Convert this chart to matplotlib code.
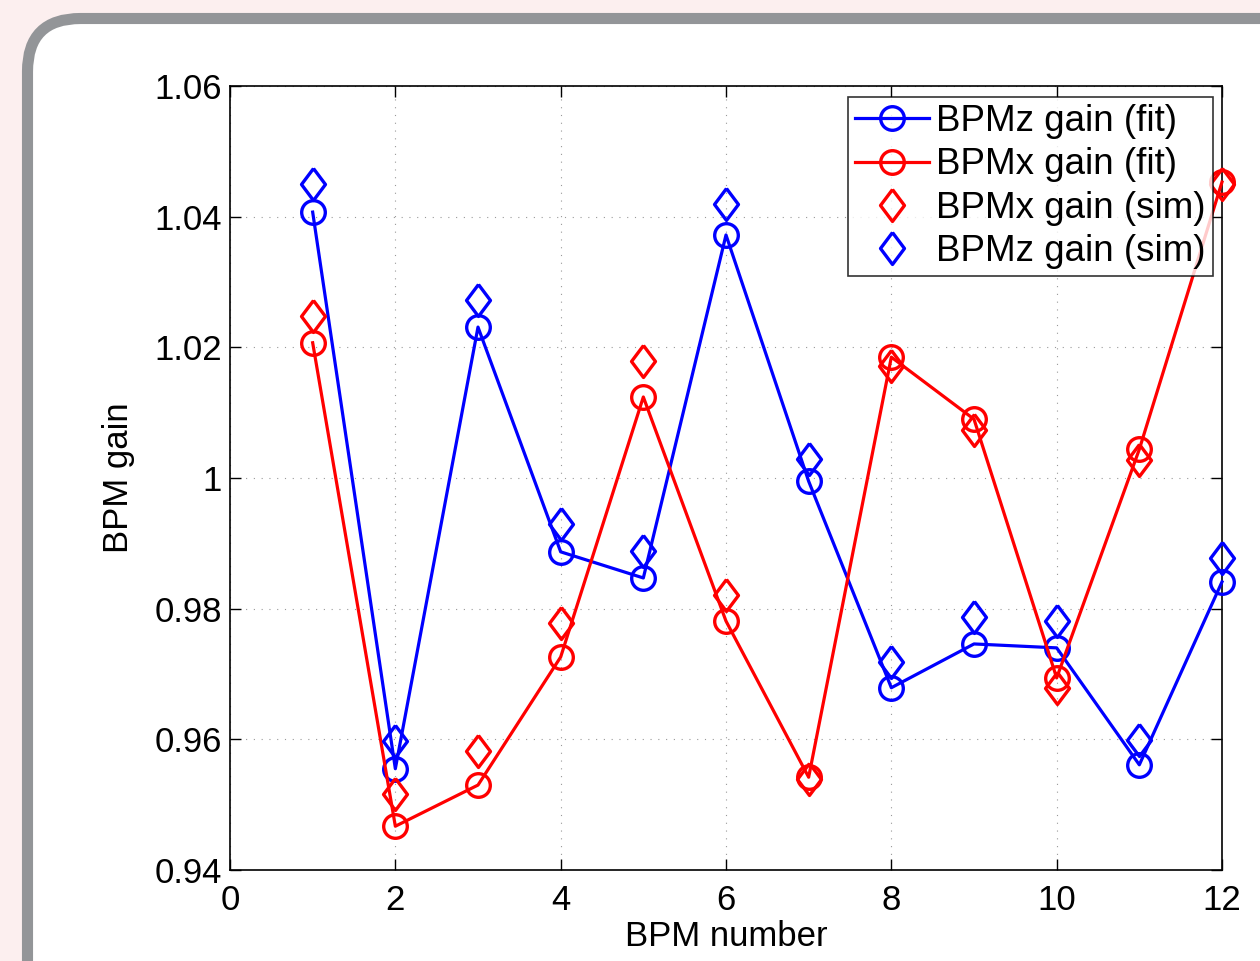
import matplotlib.pyplot as plt
from matplotlib.patches import FancyBboxPatch

plt.rcParams["font.family"] = ["Liberation Sans", "DejaVu Sans"]

bpm = [1, 2, 3, 4, 5, 6, 7, 8, 9, 10, 11, 12]

# gains
z_fit = [1.0407, 0.9555, 1.0231, 0.9887, 0.9847, 1.0372, 0.9995, 0.9679, 0.9746, 0.9740, 0.9561, 0.9841]
x_fit = [1.0207, 0.9467, 0.9530, 0.9726, 1.0124, 0.9781, 0.9542, 1.0185, 1.0090, 0.9694, 1.0044, 1.0453]
x_sim = [1.0248, 0.9516, 0.9582, 0.9778, 1.0179, 0.9821, 0.9539, 1.0171, 1.0073, 0.9679, 1.0028, 1.0450]
z_sim = [1.0450, 0.9597, 1.0272, 0.9930, 0.9888, 1.0419, 1.0029, 0.9718, 0.9787, 0.9781, 0.9599, 0.9878]

xticks = [0, 2, 4, 6, 8, 10, 12]
yticks = [0.94, 0.96, 0.98, 1.0, 1.02, 1.04, 1.06]
ytick_labels = ["0.94", "0.96", "0.98", "1", "1.02", "1.04", "1.06"]

fig = plt.figure(figsize=(12.6, 9.61), dpi=100)
fig.patch.set_facecolor("#fcefef")

# slide frame behind the axes
frame = FancyBboxPatch((27.5 / 1260, -0.2), 1.2, (961 - 18.5) / 961 + 0.2,
                       boxstyle="round,pad=0,rounding_size=0.042",
                       transform=fig.transFigure, facecolor="white",
                       edgecolor="#939598", linewidth=8, zorder=-10,
                       mutation_aspect=1260 / 961)
fig.patches.append(frame)

ax = fig.add_axes([230 / 1260, 91 / 961, 992 / 1260, 784 / 961])
ax.set_facecolor("white")

# matlab-like diamond, a bit wider than matplotlib's thin one
diamond = [(0, 1), (0.75, 0), (0, -1), (-0.75, 0), (0, 1)]

lw = 2.3
mew = 2.4
ax.plot(bpm, z_fit, "-o", color="blue", lw=lw, ms=17, mew=mew, mfc="none",
        clip_on=False, label="BPMz gain (fit)", zorder=3)
ax.plot(bpm, x_fit, "-o", color="red", lw=lw, ms=17, mew=mew, mfc="none",
        clip_on=False, label="BPMx gain (fit)", zorder=3)
ax.plot(bpm, x_sim, ls="none", marker=diamond, color="red", ms=23, mew=mew,
        mfc="none", clip_on=False, label="BPMx gain (sim)", zorder=3)
ax.plot(bpm, z_sim, ls="none", marker=diamond, color="blue", ms=23, mew=mew,
        mfc="none", clip_on=False, label="BPMz gain (sim)", zorder=3)

ax.set_xlim(0, 12)
ax.set_ylim(0.94, 1.06)
ax.set_xticks(xticks)
ax.set_yticks(yticks)
ax.set_yticklabels(ytick_labels)
ax.tick_params(direction="in", length=8, width=1, top=True, right=True,
               labelsize=25)
ax.tick_params(axis="x", pad=10)
ax.tick_params(axis="y", pad=6)
ax.grid(True, linestyle=(0, (1, 6)), color="#999999", linewidth=0.8)
for s in ax.spines.values():
    s.set_linewidth(1.2)

ax.set_xlabel("BPM number", fontsize=25, labelpad=2)
ax.set_ylabel("BPM gain", fontsize=25, labelpad=14)

leg = ax.legend(loc="upper right", bbox_to_anchor=(0.991, 0.986), fontsize=26.5,
                frameon=True, fancybox=False, edgecolor="black",
                borderpad=0.2, labelspacing=0.22, handlelength=2.0,
                handletextpad=0.2, borderaxespad=0)
leg.get_frame().set_linewidth(1.2)

fig.savefig("out.png", dpi=100, facecolor=fig.get_facecolor())
